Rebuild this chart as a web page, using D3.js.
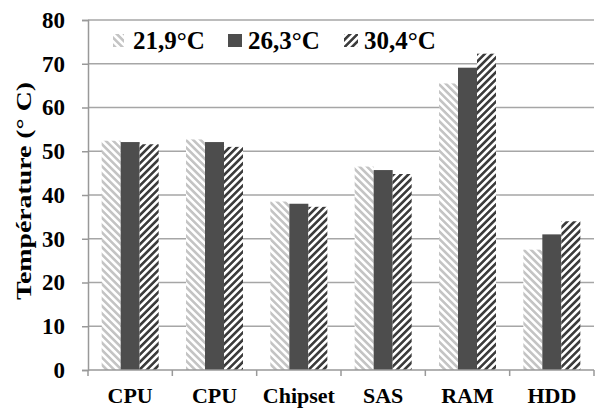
<!DOCTYPE html>
<html><head><meta charset="utf-8">
<script src="https://cdn.jsdelivr.net/npm/d3@7"></script>
<style>body{margin:0;background:#fff}svg{display:block}</style>
</head><body>
<svg id="c" width="596" height="409"></svg>
<script>
const categories = ["CPU","CPU","Chipset","SAS","RAM","HDD"];
const seriesNames = ["21,9°C","26,3°C","30,4°C"];
const s219 = [52.4, 52.7, 38.5, 46.5, 65.5, 27.5];
const s263 = [52.1, 52.1, 38.0, 45.7, 69.1, 31.0];
const s304 = [51.6, 51.0, 37.3, 44.8, 72.3, 34.0];
const yTicks = [0,10,20,30,40,50,60,70,80];
const series = [s219, s263, s304];

const svg = d3.select("#c");
const font = "'Liberation Serif','Times New Roman',serif";
const defs = svg.append("defs");
function stripe(id, color, angle){
  const p = defs.append("pattern").attr("id", id).attr("patternUnits","userSpaceOnUse")
    .attr("width",5.2).attr("height",5.2).attr("patternTransform",`rotate(${angle})`);
  p.append("rect").attr("width",5.2).attr("height",5.2).attr("fill","#fff");
  p.append("rect").attr("width",2.6).attr("height",5.2).attr("fill",color);
}
stripe("pl","#c4c4c4",-45);
stripe("ph","#3c3c3c",45);
const fills = ["url(#pl)","#4d4d4d","url(#ph)"];

const x = d3.scaleBand().domain(d3.range(categories.length)).range([88,594]).paddingInner(0.324).paddingOuter(0.162);
const xs = d3.scaleBand().domain(d3.range(3)).range([0,x.bandwidth()]);
const y = d3.scaleLinear().domain([0,80]).range([370,20]);

// gridlines
svg.append("g").selectAll("line").data(yTicks.filter(d=>d>0)).join("line")
  .attr("x1",88).attr("x2",594).attr("y1",d=>y(d)).attr("y2",d=>y(d))
  .attr("stroke","#a6a6a6").attr("stroke-width",1.5);

// bars
series.forEach((vals,si)=>{
  svg.append("g").selectAll("rect").data(vals).join("rect")
    .attr("x",(d,i)=>x(i)+xs(si)).attr("width",xs.bandwidth())
    .attr("y",d=>y(d)).attr("height",d=>y(0)-y(d)).attr("fill",fills[si]);
});

// y axis
const ya = svg.append("g").attr("transform","translate(88,0)")
  .call(d3.axisLeft(y).tickValues(yTicks).tickSize(6).tickPadding(17));
ya.select(".domain").attr("stroke","#999").attr("stroke-width",1.5);
ya.selectAll(".tick line").attr("stroke","#999").attr("stroke-width",1.5);
ya.selectAll("text").attr("font-family",font).attr("font-weight","bold").attr("font-size",23).attr("fill","#000");

// x axis
const step = x.step();
const bounds = d3.range(categories.length+1);
const xa = svg.append("g");
xa.append("line").attr("x1",88).attr("x2",594).attr("y1",y(0)).attr("y2",y(0)).attr("stroke","#999").attr("stroke-width",1.5);
xa.selectAll("line.t").data(bounds).join("line").attr("class","t")
  .attr("x1",d=>88+d*step).attr("x2",d=>88+d*step).attr("y1",y(0)).attr("y2",y(0)+6)
  .attr("stroke","#999").attr("stroke-width",1.5);
xa.selectAll("text").data(categories).join("text")
  .attr("x",(d,i)=>x(i)+x.bandwidth()/2).attr("y",403).attr("text-anchor","middle")
  .attr("font-family",font).attr("font-weight","bold").attr("font-size",22).attr("fill","#000")
  .text(d=>d);

// y title
svg.append("text").attr("transform","translate(31,191) rotate(-90)").attr("text-anchor","middle")
  .attr("font-family",font).attr("font-weight","bold").attr("font-size",22).attr("fill","#000")
  .attr("textLength",218).attr("lengthAdjust","spacingAndGlyphs")
  .text("Température (° C)");

// legend
const lgX = [113,228,344];
const lg = svg.append("g");
seriesNames.forEach((n,i)=>{
  lg.append("rect").attr("x",lgX[i]).attr("y",34).attr("width",i===0?11:14).attr("height",13).attr("fill",fills[i]);
  lg.append("text").attr("x",lgX[i]+20).attr("y",49).attr("font-family",font).attr("font-weight","bold")
    .attr("font-size",25).attr("fill","#000").text(n);
});
</script>
</body></html>
